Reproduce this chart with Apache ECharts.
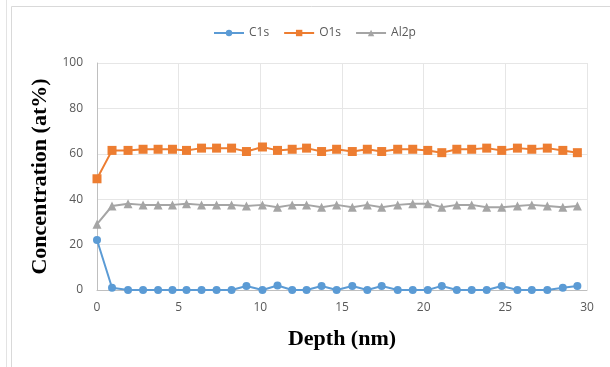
<!DOCTYPE html>
<html>
<head>
<meta charset="utf-8">
<script src="https://cdn.jsdelivr.net/npm/echarts@6/dist/echarts.min.js"></script>
<style>
  html, body { margin: 0; padding: 0; background: #fff; }
  #chart { width: 610px; height: 367px; }
</style>
</head>
<body>
<div id="chart"></div>
<script>
// depth (nm)
const depth = [0, 0.92, 1.9, 2.82, 3.74, 4.62, 5.48, 6.4, 7.32, 8.24, 9.15, 10.13, 11.05, 11.95, 12.83, 13.75,
  14.67, 15.63, 16.55, 17.43, 18.41, 19.33, 20.25, 21.11, 22.03, 22.94, 23.86, 24.78, 25.74, 26.62, 27.57, 28.52, 29.41]
const c1s = [22, 1, 0, 0, 0, 0, 0, 0, 0, 0, 1.8, 0, 2, 0, 0, 1.8,
  0, 1.8, 0, 1.8, 0, 0, 0, 1.8, 0, 0, 0, 1.8, 0, 0, 0, 1, 1.8]
const o1s = [49, 61.5, 61.5, 62, 62, 62, 61.5, 62.5, 62.5, 62.5, 61, 63, 61.5, 62, 62.5, 61,
  62, 61, 62, 61, 62, 62, 61.5, 60.5, 62, 62, 62.5, 61.5, 62.5, 62, 62.5, 61.5, 60.5]
const al2p = [29, 37, 38, 37.5, 37.5, 37.5, 38, 37.5, 37.5, 37.5, 37, 37.5, 36.5, 37.5, 37.5, 36.5,
  37.5, 36.5, 37.5, 36.5, 37.5, 38, 38, 36.5, 37.5, 37.5, 36.5, 36.5, 37, 37.5, 37, 36.5, 37]
const yTicks = [0, 20, 40, 60, 80, 100]

const toPairs = (ys) => ys.map((v, i) => [depth[i], v])

const chart = echarts.init(document.getElementById('chart'))

const makeSeries = (name, data, color, symbol, size) => ({
  name: name,
  type: 'line',
  data: toPairs(data),
  symbol: symbol,
  symbolSize: size,
  lineStyle: { color: color, width: 2 },
  itemStyle: { color: color },
  animation: false
})

chart.setOption({
  animation: false,
  graphic: [
    {
      type: 'rect',
      shape: { x: 11.5, y: 6.5, width: 620, height: 380 },
      style: { fill: 'none', stroke: '#d9d9d9', lineWidth: 1 }
    },
    {
      type: 'line',
      shape: { x1: 6.5, y1: 0, x2: 6.5, y2: 367 },
      style: { stroke: '#e3e3e3', lineWidth: 1 }
    }
  ],
  legend: {
    top: 22,
    left: 208,
    itemWidth: 30,
    itemHeight: 8,
    itemGap: 14,
    textStyle: { color: '#595959', fontSize: 12, fontFamily: 'Open Sans' },
    data: ['C1s', 'O1s', 'Al2p']
  },
  grid: {
    left: 97,
    right: 23,
    top: 63,
    bottom: 77
  },
  xAxis: {
    type: 'value',
    min: 0,
    max: 30,
    interval: 5,
    name: 'Depth (nm)',
    nameLocation: 'middle',
    nameGap: 38,
    nameTextStyle: {
      fontFamily: 'Liberation Serif',
      fontWeight: 'bold',
      fontSize: 22,
      color: '#000'
    },
    axisLine: { lineStyle: { color: '#bfbfbf' } },
    axisTick: { show: false },
    axisLabel: { color: '#595959', fontSize: 12, margin: 12, fontFamily: 'Open Sans' },
    splitLine: { show: true, lineStyle: { color: '#e6e6e6' } }
  },
  yAxis: {
    type: 'value',
    min: 0,
    max: 100,
    interval: 20,
    name: 'Concentration (at%)',
    nameLocation: 'middle',
    nameGap: 45,
    nameTextStyle: {
      fontFamily: 'Liberation Serif',
      fontWeight: 'bold',
      fontSize: 22,
      color: '#000'
    },
    axisLine: { show: true, lineStyle: { color: '#bfbfbf' } },
    axisTick: { show: false },
    axisLabel: {
      color: '#595959',
      fontSize: 12,
      margin: 14,
      fontFamily: 'Open Sans',
      formatter: (v) => (yTicks.indexOf(v) >= 0 ? String(v) : '')
    },
    splitLine: { show: true, lineStyle: { color: '#e6e6e6' } }
  },
  series: [
    makeSeries('C1s', c1s, '#5b9bd5', 'circle', 8),
    makeSeries('O1s', o1s, '#ed7d31', 'rect', 9),
    makeSeries('Al2p', al2p, '#a5a5a5', 'triangle', 9)
  ]
})
</script>
</body>
</html>
